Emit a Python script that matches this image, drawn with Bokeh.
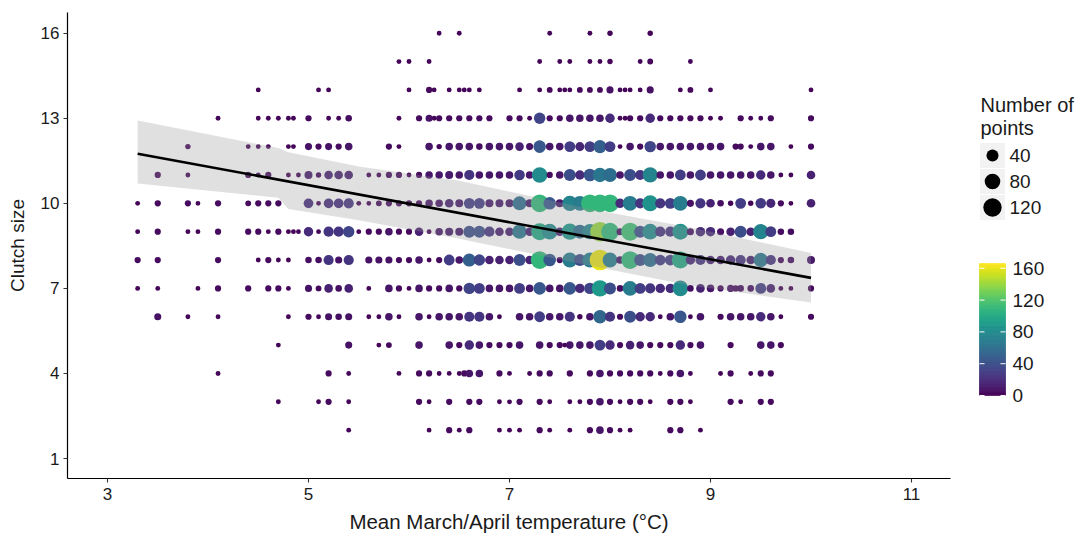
import numpy as np
import pandas as pd
from bokeh.plotting import figure
from bokeh.layouts import row
from bokeh.models import ColumnDataSource, Range1d, FixedTicker
from bokeh.palettes import Viridis256
from bokeh.transform import linear_cmap
from bokeh.core.properties import value
from bokeh.embed import file_html
from bokeh.resources import INLINE

# ---------------- data: temperature (x) and number of nests (count) per clutch size ----------------
c16_t = [6.3, 6.5, 7.4, 7.8, 8.0, 8.4]
c16_n = [2, 2, 2, 2, 3, 3]

c15_t = [5.9, 6.0, 6.2, 7.3, 7.5, 7.6, 7.8, 7.9, 8.0, 8.3, 8.4, 8.8]
c15_n = [2, 2, 2, 2, 2, 2, 2, 2, 3, 2, 4, 2]

c14_t = [4.5, 5.1, 5.2, 6.0, 6.2, 6.25, 6.4, 6.5, 6.55, 6.6, 6.7, 7.1, 7.3, 7.4, 7.5, 7.55, 7.6, 7.7,
         7.8, 7.9, 8.0, 8.1, 8.15, 8.2, 8.3, 8.4, 8.7, 8.8, 9.0, 10.0]
c14_n = [2, 2, 2, 2, 5, 2, 2, 2, 2, 2, 2, 2, 2, 4, 2, 2, 2, 4, 4, 4, 8, 2, 2, 2, 2, 8, 2, 4, 2, 2]

c13_t = [4.1, 4.5, 4.6, 4.7, 4.8, 4.85, 5.0, 5.2, 5.3, 5.4, 5.9, 6.1, 6.2, 6.25, 6.3, 6.4, 6.5, 6.6,
         6.7, 6.8, 7.0, 7.1, 7.2, 7.3, 7.4, 7.5, 7.6, 7.7, 7.8, 7.9, 8.0, 8.1, 8.15, 8.2, 8.3, 8.4,
         8.5, 8.6, 8.7, 8.8, 8.9, 9.0, 9.1, 9.3, 9.4, 9.5, 9.6, 10.0]
c13_n = [2, 2, 2, 2, 2, 2, 5, 2, 2, 6, 2, 5, 8, 2, 5, 5, 5, 5, 5, 5, 5, 5, 2, 35, 5, 5, 10, 10,
         10, 10, 20, 2, 2, 5, 5, 20, 5, 5, 5, 5, 5, 2, 2, 5, 2, 2, 5, 5]

c12_t = [3.8, 4.4, 4.5, 4.6, 4.8, 4.85, 5.0, 5.1, 5.2, 5.3, 5.4, 5.8, 5.9, 6.2, 6.3, 6.4, 6.5, 6.6,
         6.7, 6.8, 6.9, 7.0, 7.1, 7.2, 7.3, 7.4, 7.5, 7.6, 7.7, 7.8, 7.9, 8.0, 8.1, 8.2, 8.3, 8.4,
         8.5, 8.6, 8.7, 8.8, 8.9, 9.0, 9.1, 9.25, 9.3, 9.4, 9.5, 9.6, 9.8, 10.0]
c12_n = [3, 2, 2, 2, 2, 2, 8, 5, 8, 5, 10, 5, 2, 10, 3, 10, 10, 10, 6, 10, 10, 10, 15, 8, 45, 10,
         10, 30, 18, 30, 50, 30, 2, 10, 5, 35, 10, 10, 10, 10, 10, 10, 10, 5, 5, 2, 10, 10, 2, 5]

c11_t = [3.5, 3.8, 4.4, 4.5, 4.6, 4.8, 4.9, 5.0, 5.1, 5.2, 5.3, 5.4, 5.6, 5.7, 5.8, 5.9, 6.0, 6.1,
         6.2, 6.3, 6.4, 6.5, 6.6, 6.7, 6.8, 6.9, 7.0, 7.1, 7.2, 7.3, 7.4, 7.5, 7.6, 7.7, 7.8, 7.9,
         8.0, 8.1, 8.2, 8.3, 8.4, 8.5, 8.6, 8.7, 8.8, 8.9, 9.0, 9.1, 9.2, 9.3, 9.4, 9.5, 9.6, 9.7,
         9.8, 10.0]
c11_n = [5, 2, 5, 2, 5, 2, 2, 12, 3, 15, 15, 15, 2, 2, 5, 5, 2, 5, 10, 10, 12, 10, 25, 10, 10, 10,
         10, 28, 10, 80, 5, 10, 40, 20, 45, 65, 60, 10, 40, 25, 75, 10, 10, 30, 10, 30, 10, 10, 10,
         10, 10, 20, 10, 2, 2, 15]

c10_t = [3.3, 3.5, 3.8, 3.9, 4.1, 4.4, 4.5, 4.6, 4.7, 5.0, 5.1, 5.2, 5.3, 5.4, 5.5, 5.6, 5.7, 5.8,
         5.9, 6.0, 6.1, 6.2, 6.3, 6.4, 6.5, 6.6, 6.7, 6.8, 6.9, 7.0, 7.1, 7.2, 7.3, 7.4, 7.5, 7.6,
         7.7, 7.8, 7.9, 8.0, 8.1, 8.2, 8.3, 8.4, 8.5, 8.6, 8.7, 8.8, 8.9, 9.0, 9.1, 9.2, 9.3, 9.4,
         9.5, 9.6, 9.7, 9.8, 10.0]
c10_n = [2, 5, 5, 2, 5, 4, 5, 5, 5, 22, 2, 22, 22, 25, 2, 2, 4, 5, 5, 5, 5, 10, 10, 15, 12, 30,
         30, 12, 12, 12, 60, 12, 110, 45, 12, 75, 70, 110, 110, 110, 20, 70, 25, 85, 25, 30, 70, 8,
         25, 15, 6, 3, 30, 3, 28, 18, 5, 2, 15]

c9_t = [3.3, 3.5, 3.8, 3.9, 4.1, 4.4, 4.5, 4.6, 4.7, 4.8, 4.85, 4.9, 5.0, 5.1, 5.2, 5.3, 5.4, 5.5,
        5.6, 5.7, 5.8, 5.9, 6.0, 6.1, 6.2, 6.3, 6.4, 6.5, 6.6, 6.7, 6.8, 6.9, 7.0, 7.1, 7.2, 7.3,
        7.4, 7.5, 7.6, 7.7, 7.8, 7.9, 8.0, 8.1, 8.2, 8.3, 8.4, 8.5, 8.6, 8.7, 8.8, 8.9, 9.0, 9.1,
        9.2, 9.3, 9.4, 9.5, 9.6, 9.7, 9.8]
c9_n = [2, 5, 2, 2, 5, 5, 5, 2, 5, 2, 2, 2, 20, 2, 25, 25, 35, 2, 5, 5, 10, 5, 5, 15, 2, 10, 12,
        12, 40, 40, 25, 15, 15, 65, 15, 100, 80, 15, 90, 60, 75, 140, 110, 8, 115, 40, 80, 25, 25,
        85, 8, 20, 20, 8, 15, 40, 15, 75, 30, 6, 6]

c8_t = [3.3, 3.5, 4.1, 4.5, 4.6, 4.7, 4.8, 5.0, 5.1, 5.2, 5.3, 5.4, 5.6, 5.7, 5.8, 5.9, 6.0, 6.1,
        6.2, 6.3, 6.4, 6.5, 6.6, 6.7, 6.8, 6.9, 7.0, 7.1, 7.2, 7.3, 7.4, 7.5, 7.6, 7.7, 7.8, 7.9,
        8.0, 8.1, 8.2, 8.3, 8.4, 8.5, 8.6, 8.7, 8.8, 8.9, 9.0, 9.1, 9.2, 9.3, 9.4, 9.5, 9.6, 9.7,
        9.8, 10.0]
c8_n = [5, 5, 5, 2, 5, 2, 2, 6, 6, 25, 8, 25, 8, 8, 8, 5, 5, 10, 2, 5, 30, 10, 50, 35, 15, 15, 15,
        40, 15, 110, 45, 5, 70, 40, 70, 160, 70, 10, 110, 40, 60, 30, 30, 100, 20, 25, 15, 15, 20,
        25, 15, 65, 25, 5, 6, 12]

c7_t = [3.3, 3.5, 3.9, 4.1, 4.4, 4.6, 4.7, 4.8, 5.0, 5.1, 5.2, 5.3, 5.4, 5.6, 5.8, 5.9, 6.0, 6.1,
        6.2, 6.3, 6.4, 6.5, 6.6, 6.7, 6.8, 6.9, 7.0, 7.1, 7.2, 7.3, 7.4, 7.5, 7.6, 7.7, 7.8, 7.9,
        8.0, 8.1, 8.2, 8.3, 8.4, 8.5, 8.6, 8.7, 8.8, 8.9, 9.0, 9.1, 9.2, 9.25, 9.3, 9.4, 9.5, 9.6,
        9.7, 9.8, 10.0]
c7_n = [2, 2, 2, 5, 5, 5, 5, 2, 8, 4, 15, 6, 15, 2, 10, 5, 2, 10, 5, 5, 10, 5, 35, 30, 10, 10, 10,
        30, 10, 45, 10, 10, 45, 20, 35, 90, 40, 6, 70, 30, 25, 20, 20, 80, 6, 15, 10, 5, 8, 5, 6, 6,
        30, 15, 2, 2, 5]

c6_t = [3.5, 3.8, 4.1, 4.8, 5.0, 5.1, 5.2, 5.3, 5.4, 5.6, 5.7, 5.8, 5.9, 6.1, 6.2, 6.3, 6.4, 6.5,
        6.6, 6.7, 6.8, 6.9, 7.1, 7.2, 7.3, 7.4, 7.5, 7.6, 7.7, 7.8, 7.9, 8.0, 8.1, 8.2, 8.3, 8.4,
        8.5, 8.6, 8.7, 8.8, 8.9, 9.1, 9.2, 9.3, 9.4, 9.5, 9.6, 9.7, 10.0]
c6_n = [8, 2, 2, 2, 5, 2, 8, 6, 8, 2, 2, 10, 2, 10, 2, 10, 10, 10, 25, 25, 10, 2, 10, 10, 30, 10,
        10, 25, 3, 10, 55, 25, 5, 40, 20, 20, 2, 10, 45, 2, 10, 5, 10, 10, 10, 20, 10, 2, 5]

c5_t = [4.7, 5.4, 5.7, 5.8, 6.1, 6.4, 6.5, 6.6, 6.7, 6.8, 6.9, 7.0, 7.1, 7.3, 7.4, 7.5, 7.55, 7.6,
        7.7, 7.8, 7.9, 8.0, 8.1, 8.2, 8.3, 8.4, 8.5, 8.6, 8.7, 8.8, 8.9, 9.2, 9.5, 9.6, 9.7]
c5_n = [2, 8, 2, 4, 10, 10, 5, 20, 10, 5, 5, 5, 10, 10, 5, 5, 2, 10, 10, 10, 30, 20, 5, 15, 10, 5,
        5, 5, 20, 5, 10, 5, 10, 10, 5]

c4_t = [4.1, 5.2, 5.4, 5.9, 6.1, 6.2, 6.3, 6.4, 6.5, 6.55, 6.6, 6.7, 6.9, 7.0, 7.2, 7.3, 7.4, 7.6,
        7.8, 7.9, 8.0, 8.1, 8.2, 8.3, 8.4, 8.5, 8.6, 8.7, 8.8, 9.1, 9.2, 9.4, 9.5, 9.6]
c4_n = [2, 5, 2, 2, 5, 5, 2, 2, 2, 5, 10, 10, 5, 2, 2, 5, 5, 5, 5, 10, 5, 5, 5, 5, 5, 2, 5, 10, 2,
        2, 5, 2, 5, 5]

c3_t = [4.7, 5.1, 5.2, 5.4, 6.1, 6.2, 6.4, 6.6, 6.7, 6.9, 7.0, 7.1, 7.3, 7.4, 7.6, 7.7, 7.8, 7.9,
        8.0, 8.1, 8.2, 8.3, 8.4, 8.6, 8.7, 8.8, 9.2, 9.3, 9.5, 9.6]
c3_n = [2, 2, 5, 2, 5, 2, 5, 5, 5, 2, 2, 5, 5, 2, 2, 2, 5, 10, 5, 2, 5, 5, 2, 5, 5, 2, 5, 2, 5, 5]

c2_t = [5.4, 6.2, 6.4, 6.5, 6.6, 6.9, 7.0, 7.1, 7.3, 7.4, 7.6, 7.8, 7.9, 8.0, 8.1, 8.2, 8.6, 8.7, 8.9]
c2_n = [2, 2, 5, 2, 5, 2, 2, 2, 5, 2, 2, 5, 10, 5, 2, 2, 5, 5, 2]

# fitted line and its interval
fit_x = [3.3, 10.0]
fit_y = [11.75, 7.37]
band_x = [3.3, 4.7, 4.8, 5.5, 6.5, 7.8, 8.8, 10.0]
band_hi = [12.92, 11.95, 11.8, 11.3, 10.8, 9.8, 9.15, 8.25]
band_lo = [10.7, 10.2, 9.8, 9.4, 8.75, 7.8, 7.1, 6.5]

x_ticks = [3, 5, 7, 9, 11]
y_ticks = [1, 4, 7, 10, 13, 16]
size_legend_counts = [40, 80, 120]
colorbar_ticks = [0, 40, 80, 120, 160]

# ---------------- assemble ----------------
rows = {16: (c16_t, c16_n), 15: (c15_t, c15_n), 14: (c14_t, c14_n), 13: (c13_t, c13_n),
        12: (c12_t, c12_n), 11: (c11_t, c11_n), 10: (c10_t, c10_n), 9: (c9_t, c9_n),
        8: (c8_t, c8_n), 7: (c7_t, c7_n), 6: (c6_t, c6_n), 5: (c5_t, c5_n), 4: (c4_t, c4_n),
        3: (c3_t, c3_n), 2: (c2_t, c2_n)}

CMIN, CMAX = 0, 166
NMIN, NMAX = 1, 166
FONT = "Liberation Sans"
TXT = "#1a1a1a"


def dot_size(n):
    n = np.asarray(n, dtype=float)
    return 3.5 * (1 + 5 * np.sqrt((n - NMIN) / (NMAX - NMIN)))


frames = [pd.DataFrame({"temp": t, "clutch": float(c), "n": n}) for c, (t, n) in rows.items()]
df = pd.concat(frames, ignore_index=True)
df["size"] = dot_size(df["n"])
src = ColumnDataSource(df)

TOP, BOTTOM = 12, 478   # frame edges on the page (px)

p = figure(width=960, height=538, x_range=Range1d(2.602, 11.388), y_range=Range1d(0.295, 16.73),
           output_backend="svg", toolbar_location=None,
           min_border_left=67, min_border_right=10, min_border_top=TOP,
           min_border_bottom=538 - BOTTOM)

p.scatter("temp", "clutch", size="size", source=src,
          fill_color=linear_cmap("n", Viridis256, CMIN, CMAX), line_color=None)
p.varea(x=band_x, y1=band_lo, y2=band_hi, fill_color="#999999", fill_alpha=0.3)
p.line(fit_x, fit_y, line_color="black", line_width=2.6)

p.xgrid.grid_line_color = None
p.ygrid.grid_line_color = None
p.outline_line_color = None
p.background_fill_color = "white"
p.border_fill_color = "white"
p.xaxis.ticker = FixedTicker(ticks=x_ticks)
p.yaxis.ticker = FixedTicker(ticks=y_ticks)
for ax in (p.xaxis[0], p.yaxis[0]):
    ax.axis_line_color = "black"
    ax.axis_line_width = 1.2
    ax.major_tick_line_color = "#333333"
    ax.major_tick_line_width = 1.1
    ax.major_tick_out = 4
    ax.major_tick_in = 0
    ax.minor_tick_line_color = None
    ax.major_label_text_font = FONT
    ax.major_label_text_font_size = "17px"
    ax.major_label_text_color = TXT
    ax.axis_label_text_font = FONT
    ax.axis_label_text_font_style = "normal"
    ax.axis_label_text_color = TXT
p.xaxis.axis_label = "Mean March/April temperature (°C)"
p.yaxis.axis_label = "Clutch size"
p.xaxis.axis_label_text_font_size = "20.5px"
p.yaxis.axis_label_text_font_size = "19px"
p.xaxis.major_label_standoff = 5
p.yaxis.major_label_standoff = 4
p.xaxis.axis_label_standoff = 7
p.yaxis.axis_label_standoff = 10

# ---------------- legend panel (coordinates are page pixels) ----------------
lg = figure(width=131, height=538, x_range=Range1d(960, 1091), y_range=Range1d(BOTTOM, TOP),
            output_backend="svg", toolbar_location=None, x_axis_type=None, y_axis_type=None,
            min_border_left=0, min_border_right=0, min_border_top=TOP,
            min_border_bottom=538 - BOTTOM)
lg.grid.visible = False
lg.outline_line_color = None

lg.text(x=[980, 980], y=[104, 127], text=["Number of", "points"], text_font=value(FONT),
        text_font_size="20px", text_color=TXT, text_baseline="middle", text_align="left")
key_y = [155, 181, 207]
lg.rect(x=992, y=key_y, width=25, height=25, fill_color="#F2F2F2", line_color=None)
lg.scatter(x=[992] * 3, y=key_y, size=list(dot_size(size_legend_counts)), fill_color="black",
           line_color=None)
lg.text(x=[1009] * 3, y=key_y, text=[str(v) for v in size_legend_counts], text_font=value(FONT),
        text_font_size="19px", text_color=TXT, text_baseline="middle", text_align="left")

bar_bottom, bar_top = 395.0, 263.0
k = (bar_bottom - bar_top) / (CMAX - CMIN)
vals = np.arange(CMIN, CMAX)
cb = ColumnDataSource(dict(v=vals + 0.5, top=bar_bottom - (vals + 1) * k, bottom=bar_bottom - vals * k))
lg.quad(left=979, right=1005, top="top", bottom="bottom", source=cb,
        fill_color=linear_cmap("v", Viridis256, CMIN, CMAX),
        line_color=linear_cmap("v", Viridis256, CMIN, CMAX), line_width=0.6)
ty = [bar_bottom - v * k for v in colorbar_ticks]
lg.segment(x0=[979] * 5, x1=[984] * 5, y0=ty, y1=ty, line_color="white", line_width=1)
lg.segment(x0=[1000] * 5, x1=[1005] * 5, y0=ty, y1=ty, line_color="white", line_width=1)
lg.text(x=[1012] * 5, y=ty, text=[str(v) for v in colorbar_ticks], text_font=value(FONT),
        text_font_size="19px", text_color=TXT, text_baseline="middle", text_align="left")

layout = row(p, lg)
open("out.html", "w").write(file_html(layout, INLINE))
